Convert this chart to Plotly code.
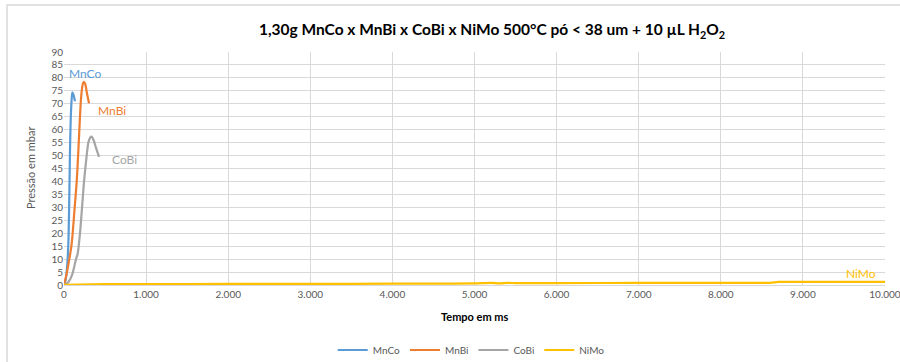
import plotly.graph_objects as go

# Data (time in ms, pressure in mbar)
mnco_t = [0, 20, 40, 55, 65, 72, 80, 90, 101, 115, 134]
mnco_p = [0, 2, 8, 18, 35, 50, 62, 70, 74.4, 73.5, 71]

mnbi_t = [0, 30, 65, 90, 106, 130, 155, 175, 187, 203, 216, 232, 244, 260, 280, 305]
mnbi_p = [0, 4, 10, 15, 20, 30, 40, 52, 60, 70, 75, 78, 78.5, 77.5, 74, 70.2]

cobi_t = [0, 50, 100, 146, 166, 195, 220, 244, 276, 297, 320, 337, 360, 390, 427]
cobi_p = [0, 1, 4, 10, 12, 20, 30, 40, 50, 55, 57, 57.3, 56, 53, 49.5]

nimo_t = [0, 500, 1000, 2000, 3000, 4000, 4500, 5000, 5200, 5300, 5400, 5500, 6000, 7000, 8000, 8600, 8700, 9000, 10000]
nimo_p = [0.1, 0.3, 0.35, 0.4, 0.45, 0.5, 0.55, 0.6, 0.8, 0.6, 0.8, 0.75, 0.75, 0.8, 0.8, 0.85, 1.2, 1.2, 1.2]

names = ["MnCo", "MnBi", "CoBi", "NiMo"]
colors = ["#5B9BD5", "#ED7D31", "#A5A5A5", "#FFC000"]
series = [(mnco_t, mnco_p), (mnbi_t, mnbi_p), (cobi_t, cobi_p), (nimo_t, nimo_p)]

FONT = "Lato, Open Sans, sans-serif"

fig = go.Figure()
for (t, p), n, c in zip(series, names, colors):
    fig.add_trace(go.Scatter(x=t, y=p, name=n, mode="lines",
                             line=dict(color=c, width=2.2, shape="spline", smoothing=0.6)))

# series-name data labels anchored to series points
label_specs = [
    (mnco_t[-1], mnco_p[-1], "center", 10, 28),
    (mnbi_t[-1], mnbi_p[-1], "left", 7, -7),
    (cobi_t[-1], cobi_p[-1], "left", 11, -3),
    (nimo_t[-1], nimo_p[-1], "right", -7, 8),
]
for (x, y, xa, xs, ys), n, c in zip(label_specs, names, colors):
    fig.add_annotation(x=x, y=y, text=n, showarrow=False, xanchor=xa, yanchor="middle",
                       xshift=xs, yshift=ys, font=dict(family=FONT, size=12, color=c))

# axis titles
fig.add_annotation(xref="paper", yref="paper", x=0.5, y=-0.137, text="<b>Tempo em ms</b>",
                   showarrow=False, xanchor="center", yanchor="middle",
                   font=dict(family=FONT, size=11, color="#000000"))
fig.add_annotation(xref="paper", yref="paper", x=-0.0414, y=0.502, text="Pressão em mbar",
                   showarrow=False, xanchor="center", yanchor="middle", textangle=-90,
                   font=dict(family=FONT, size=11, color="#595959"))

# chart border
fig.add_shape(type="rect", xref="paper", yref="paper", x0=-0.0694, x1=1.05, y0=-0.4, y1=1.2017,
              line=dict(color="#D9D9D9", width=1.5), layer="below")

fig.update_layout(
    width=900, height=362,
    margin=dict(l=64, r=15, t=52, b=77, autoexpand=False),
    paper_bgcolor="white", plot_bgcolor="white",
    separators=",.",
    font=dict(family=FONT, color="#595959"),
    title=dict(text="<b>1,30g MnCo x MnBi x CoBi x NiMo 500°C pó < 38 um + 10 µL H<sub>2</sub>O<sub>2</sub></b>",
               x=492 / 900, xanchor="center", y=1 - 30 / 362, yanchor="middle",
               font=dict(family=FONT, size=15.5, color="#000000")),
    showlegend=True,
    legend=dict(orientation="h", x=0.496, xanchor="center", y=-0.279, yanchor="middle",
                font=dict(family=FONT, size=10, color="#595959"),
                itemwidth=30, tracegroupgap=0),
)
fig.update_xaxes(range=[0, 10000], dtick=1000, tick0=0, tickformat=",d", automargin=False,
                 ticklabeloverflow="allow",
                 showgrid=True, gridcolor="#D9D9D9", gridwidth=1,
                 zeroline=False, showline=True, linecolor="#D9D9D9",
                 ticks="", tickfont=dict(family=FONT, size=10, color="#595959"))
fig.update_yaxes(range=[0, 90], dtick=5, tick0=0, automargin=False,
                 showgrid=True, gridcolor="#D9D9D9", gridwidth=1,
                 zeroline=False, showline=False, ticks="",
                 tickfont=dict(family=FONT, size=10, color="#595959"))

fig.write_html("out.html", config={"displayModeBar": False},
               post_script="document.body.style.margin='0';document.body.style.overflow='hidden';")
